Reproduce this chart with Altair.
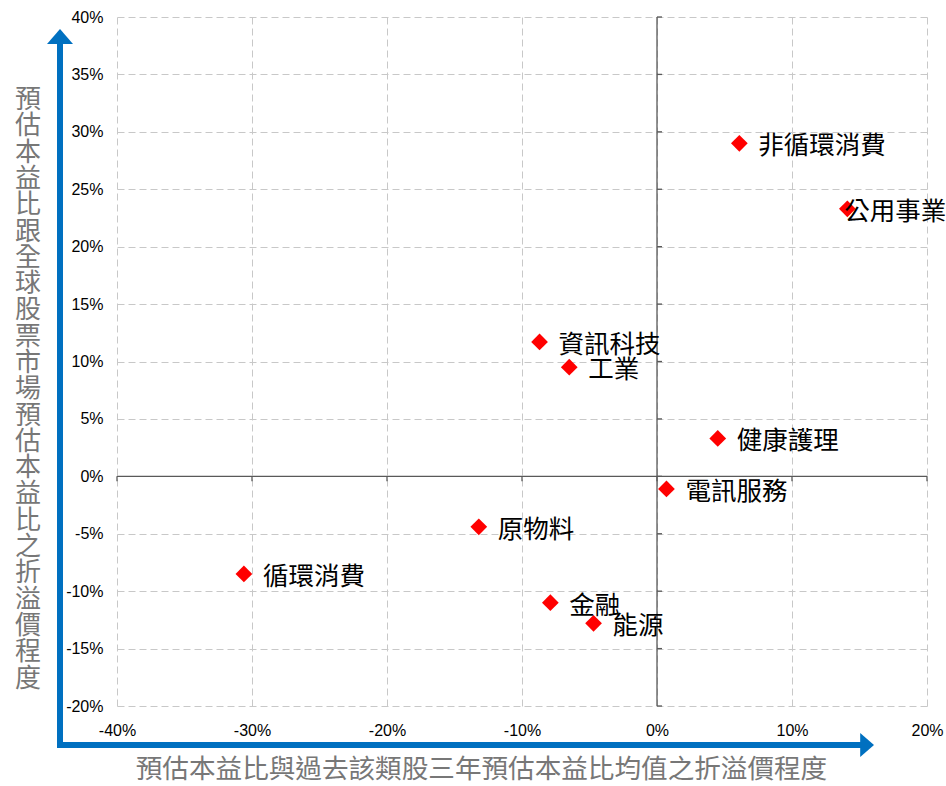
import altair as alt
import pandas as pd

# Sector valuation premiums (%)
sectors = ["非循環消費", "公用事業", "資訊科技", "工業", "健康護理",
           "電訊服務", "原物料", "循環消費", "金融", "能源"]
vs_history = [6.1, 14.1, -8.7, -6.5, 4.5, 0.7, -13.2, -30.6, -7.9, -4.7]
vs_global = [29.0, 23.3, 11.7, 9.5, 3.3, -1.1, -4.4, -8.5, -11.0, -12.8]

x_ticks = [-40, -30, -20, -10, 0, 10, 20]
y_ticks = [-20, -15, -10, -5, 0, 5, 10, 15, 20, 25, 30, 35, 40]

x_title = "預估本益比與過去該類股三年預估本益比均值之折溢價程度"
y_title = "預估本益比跟全球股票市場預估本益比之折溢價程度"

CJK = "Noto Sans CJK TC"
NUM = "Liberation Sans"
BLUE = "#0070C0"
AXIS_GRAY = "#595959"

df = pd.DataFrame({"sector": sectors, "x": vs_history, "y": vs_global})

xs = alt.Scale(domain=[x_ticks[0], x_ticks[-1]], nice=False, zero=False)
ys = alt.Scale(domain=[y_ticks[0], y_ticks[-1]], nice=False, zero=False)

x_enc = alt.X(
    "x:Q", scale=xs, title=None,
    axis=alt.Axis(values=x_ticks, labelExpr="datum.value + '%'",
                  domain=False, ticks=False, labelPadding=16,
                  labelFont=NUM, labelFontSize=16, labelColor="#000000",
                  grid=True, gridColor="#c8c8c8", gridDash=[7, 4],
                  gridWidth=1, labelFlush=False),
)
y_enc = alt.Y(
    "y:Q", scale=ys, title=None,
    axis=alt.Axis(values=y_ticks, labelExpr="datum.value + '%'",
                  domain=False, ticks=False, labelPadding=14,
                  labelFont=NUM, labelFontSize=16, labelColor="#000000",
                  grid=True, gridColor="#c8c8c8", gridDash=[7, 4],
                  gridWidth=1, labelFlush=False),
)

base = alt.Chart(df)

points = base.mark_point(shape="diamond", filled=True, size=280,
                         color="#FF0000", opacity=1).encode(x=x_enc, y=y_enc)

label_style = dict(align="left", baseline="middle", font=CJK,
                   fontSize=25.5, color="#000000", dy=3)
labels = base.transform_filter(alt.datum.sector != "公用事業").mark_text(
    dx=19, **label_style).encode(x="x:Q", y="y:Q", text="sector:N")
label_edge = base.transform_filter(alt.datum.sector == "公用事業").mark_text(
    dx=-3, **label_style).encode(x="x:Q", y="y:Q", text="sector:N")

one = alt.Data(values=[{}])

# axes crossing at zero
zero_v = alt.Chart(one).mark_rule(color=AXIS_GRAY, strokeWidth=1.3).encode(
    x=alt.datum(0, scale=xs), y=alt.datum(y_ticks[0], scale=ys),
    y2=alt.datum(y_ticks[-1]))
zero_h = alt.Chart(one).mark_rule(color=AXIS_GRAY, strokeWidth=1.3).encode(
    y=alt.datum(0, scale=ys), x=alt.datum(x_ticks[0], scale=xs),
    x2=alt.datum(x_ticks[-1]))

ytick_df = pd.DataFrame({"y": y_ticks})
xtick_df = pd.DataFrame({"x": x_ticks})
ticks_v = alt.Chart(ytick_df).mark_rule(color=AXIS_GRAY, strokeWidth=1.3,
                                        x2Offset=5).encode(
    x=alt.datum(0, scale=xs), x2=alt.datum(0), y=alt.Y("y:Q", scale=ys))
ticks_h = alt.Chart(xtick_df).mark_rule(color=AXIS_GRAY, strokeWidth=1.3,
                                        y2Offset=5).encode(
    y=alt.datum(0, scale=ys), y2=alt.datum(0), x=alt.X("x:Q", scale=xs))

# blue arrows framing the plot
v_line = alt.Chart(one).mark_rule(color=BLUE, strokeWidth=6, strokeCap="butt").encode(
    x=alt.value(-57), y=alt.value(26), y2=alt.value(731))
h_line = alt.Chart(one).mark_rule(color=BLUE, strokeWidth=6, strokeCap="butt").encode(
    y=alt.value(728), x=alt.value(-60), x2=alt.value(744))
v_head = alt.Chart(one).mark_point(
    shape="M0,-0.6L1,0.55L-1,0.55Z", filled=True, size=676,
    color=BLUE, opacity=1).encode(x=alt.value(-57), y=alt.value(19.8))
h_head = alt.Chart(one).mark_point(
    shape="M0.6,0L-0.55,-1L-0.55,1Z", filled=True, size=576,
    color=BLUE, opacity=1).encode(x=alt.value(749.8), y=alt.value(728))

# axis titles (vertical title stacked one character per line)
title_y = alt.Chart(one).mark_text(
    font=CJK, fontSize=26, color="#777777", baseline="middle",
    align="center", lineHeight=26.3).encode(
    x=alt.value(-89), y=alt.value(83), text=alt.value(list(y_title)))
title_x = alt.Chart(one).mark_text(
    font=CJK, fontSize=26.6, color="#777777", baseline="middle",
    align="center").encode(
    x=alt.value(364.5), y=alt.value(753), text=alt.value(x_title))

chart = alt.layer(
    points, zero_v, zero_h, ticks_v, ticks_h, labels, label_edge,
    v_line, h_line, v_head, h_head, title_y, title_x,
).properties(
    width=810, height=689,
    autosize=alt.AutoSizeParams(type="none"),
    padding={"left": 117, "top": 17, "right": 19, "bottom": 80},
).configure_view(stroke=None)

chart.save("out.html", embed_options={"renderer": "svg", "actions": False})
